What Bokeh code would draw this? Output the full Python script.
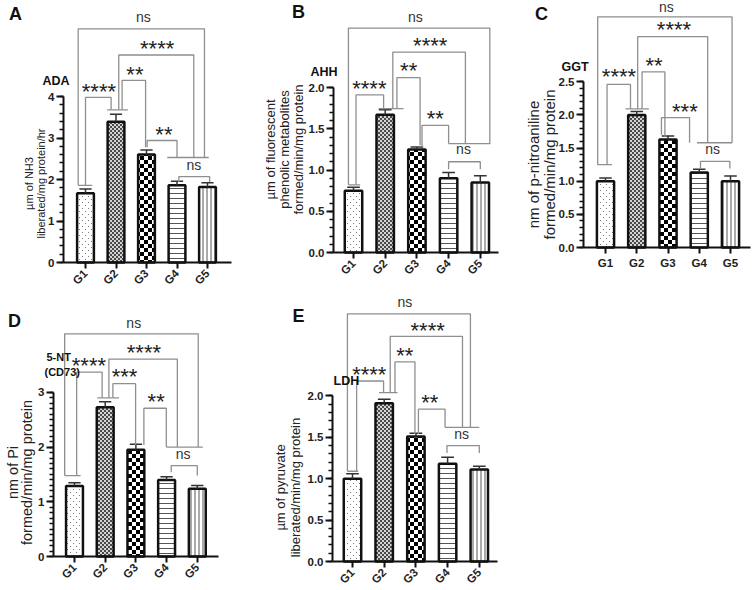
import math
import numpy as np
from bokeh.plotting import figure
from bokeh.models import (Range1d, SingleIntervalTicker, FixedTicker, NumeralTickFormatter,
                          Label, CanvasTexture)
from bokeh.layouts import row, column
from bokeh.embed import file_html
from bokeh.resources import INLINE
from bokeh.core.properties import value

FONT = "Liberation Sans"

groups = ["G1", "G2", "G3", "G4", "G5"]

# ---- data (mean, error) ----
ada_mean = [1.67, 3.39, 2.60, 1.86, 1.82]
ada_err = [0.10, 0.18, 0.11, 0.10, 0.10]
ahh_mean = [0.75, 1.67, 1.25, 0.90, 0.85]
ahh_err = [0.04, 0.06, 0.03, 0.07, 0.08]
ggt_mean = [1.00, 2.00, 1.63, 1.13, 1.00]
ggt_err = [0.05, 0.05, 0.05, 0.05, 0.08]
nt_mean = [1.29, 2.73, 1.95, 1.40, 1.24]
nt_err = [0.06, 0.10, 0.10, 0.06, 0.06]
ldh_mean = [1.00, 1.91, 1.51, 1.18, 1.11]
ldh_err = [0.06, 0.05, 0.04, 0.08, 0.04]

# ---- comparison brackets: (x_left, x_right, y_top, y_left_end, y_right_end, label, label_x, label_y)
ada_brackets = [
    (0.76, 4.90, 5.63, 1.86, 2.53, "ns", 2.90, 5.92),
    (2.09, 4.55, 5.00, 3.68, 2.53, "****", 3.35, 5.27),
    (2.20, 2.97, 4.39, 3.68, 2.78, "**", 2.62, 4.64),
    (1.00, 1.84, 3.98, 1.86, 3.68, "****", 1.44, 4.24),
    (3.02, 4.00, 2.94, 2.78, 2.53, "**", 3.57, 3.20),
    (4.06, 5.07, 2.07, 1.94, 1.94, "ns", 4.55, 2.36),
]
ada_feet = [(0.76, 1.22, 1.86), (1.71, 2.39, 3.68), (3.68, 5.04, 2.53)]

ahh_brackets = [
    (0.84, 5.30, 2.72, 0.82, 1.32, "ns", 2.95, 2.86),
    (2.24, 4.53, 2.43, 1.745, 1.32, "****", 3.42, 2.56),
    (2.37, 3.10, 2.12, 1.745, 1.30, "**", 2.74, 2.26),
    (1.08, 1.95, 1.91, 0.82, 1.745, "****", 1.50, 2.04),
    (3.16, 4.00, 1.54, 1.28, 1.32, "**", 3.58, 1.68),
    (4.00, 5.00, 1.10, 1.01, 1.01, "ns", 4.47, 1.25),
]
ahh_feet = [(0.84, 1.21, 0.82), (1.79, 2.58, 1.745), (4.00, 5.32, 1.32)]

ggt_brackets = [
    (0.75, 5.05, 3.48, 1.25, 1.58, "ns", 2.95, 3.63),
    (2.03, 4.27, 3.18, 2.09, 1.58, "****", 3.19, 3.35),
    (2.17, 2.90, 2.65, 2.09, 1.67, "**", 2.55, 2.81),
    (1.05, 1.80, 2.46, 1.25, 2.09, "****", 1.43, 2.64),
    (2.79, 3.69, 1.96, 1.70, 1.58, "***", 3.54, 2.12),
    (4.04, 4.98, 1.30, 1.19, 1.19, "ns", 4.43, 1.49),
]
ggt_feet = [(0.75, 1.21, 1.25), (1.64, 2.39, 2.09), (3.93, 5.05, 1.58)]

nt_brackets = [
    (0.68, 5.03, 4.07, 1.48, 2.00, "ns", 2.93, 4.27),
    (2.12, 4.35, 3.61, 2.90, 2.00, "****", 3.26, 3.81),
    (2.25, 2.99, 3.16, 2.90, 2.04, "***", 2.63, 3.37),
    (1.07, 1.90, 3.37, 1.48, 2.90, "****", 1.47, 3.57),
    (3.26, 3.99, 2.71, 2.04, 2.00, "**", 3.66, 2.91),
    (4.15, 5.00, 1.66, 1.54, 1.48, "ns", 4.54, 1.87),
]
nt_feet = [(0.68, 1.20, 1.48), (1.74, 2.45, 2.90), (3.99, 5.18, 2.00)]

ldh_brackets = [
    (0.84, 4.72, 2.99, 1.09, 1.62, "ns", 2.65, 3.13),
    (2.19, 4.47, 2.72, 2.04, 1.62, "****", 3.37, 2.85),
    (2.34, 2.97, 2.41, 2.04, 1.54, "**", 2.65, 2.54),
    (1.13, 1.98, 2.18, 1.09, 2.04, "****", 1.53, 2.31),
    (3.08, 3.92, 1.84, 1.54, 1.62, "**", 3.44, 1.97),
    (3.98, 5.00, 1.40, 1.31, 1.31, "ns", 4.44, 1.54),
]
ldh_feet = [(0.84, 1.18, 1.09), (1.84, 2.42, 2.04), (3.92, 5.00, 1.62)]

# ---- bar textures ----
dots_tex = CanvasTexture(code="var c = ctx.canvas; c.width = 6; c.height = 6; "
                              "ctx.fillStyle='#7a7a7a'; ctx.fillRect(1,1,1,1); ctx.fillRect(4,4,1,1);")
fine_tex = CanvasTexture(code="var c = ctx.canvas; c.width = 4; c.height = 4; "
                              "ctx.fillStyle='#4a4a4a'; ctx.fillRect(0,0,2,2); ctx.fillRect(2,2,2,2);")
check_tex = CanvasTexture(code="var c = ctx.canvas; c.width = 8; c.height = 8; "
                               "ctx.fillStyle='#000000'; ctx.fillRect(0,0,4,4); ctx.fillRect(4,4,4,4);")

bar_styles = [
    dict(fill_color="white", hatch_pattern=value("g1"), hatch_extra={"g1": dots_tex}, hatch_scale=6),
    dict(fill_color="#d4d4d4", hatch_pattern=value("g2"), hatch_extra={"g2": fine_tex}, hatch_scale=4),
    dict(fill_color="white", hatch_pattern=value("g3"), hatch_extra={"g3": check_tex}, hatch_scale=8),
    dict(fill_color="white", hatch_pattern="horizontal_line", hatch_scale=5, hatch_weight=1, hatch_color="#555555"),
    dict(fill_color="white", hatch_pattern="vertical_line", hatch_scale=4, hatch_weight=1, hatch_color="#555555"),
]


def make_panel(geo, means, errs, axis_max, step, nminor, fmt, ylabel_lines, ylabel_size,
               titles, title_size, letter, letter_pos, brackets, feet, rotate=True):
    fx0, fy0, fw, fh = geo["fig"]
    left, right, zero = geo["axes"]
    g1, sp, pxu = geo["g1"], geo["sp"], geo["pxu"]

    def tx(px):
        return 1 + (px - g1) / sp

    def ty(py):
        return (zero - py) / pxu

    p = figure(width=fw, height=fh, x_range=Range1d(tx(fx0), tx(fx0 + fw)),
               y_range=Range1d(ty(fy0 + fh), ty(fy0)), output_backend="svg",
               toolbar_location=None, title=None,
               min_border_left=0, min_border_right=0, min_border_top=0, min_border_bottom=0)
    p.outline_line_color = None
    p.grid.visible = False

    xs = np.arange(1, 6)
    means = np.array(means)
    tops = means + np.array(errs)
    for i in range(5):
        p.vbar(x=[xs[i]], top=[means[i]], width=0.55, line_color="#111111",
               line_width=2.5, **bar_styles[i])
    p.segment(x0=xs, y0=means, x1=xs, y1=tops, line_color="#333333", line_width=1.5)
    p.segment(x0=xs - 0.2, y0=tops, x1=xs + 0.2, y1=tops, line_color="#333333", line_width=1.5)

    bx, by = [], []
    for (xl, xr, yt, ybl, ybr, lab, lx, ly) in brackets:
        bx.append([xl, xl, xr, xr])
        by.append([ybl, yt, yt, ybr])
    p.multi_line(bx, by, line_color="#8f8f8f", line_width=1.3)
    p.segment(x0=[f[0] for f in feet], y0=[f[2] for f in feet],
              x1=[f[1] for f in feet], y1=[f[2] for f in feet],
              line_color="#8f8f8f", line_width=1.3)

    st = [b for b in brackets if b[5] != "ns"]
    ns = [b for b in brackets if b[5] == "ns"]
    p.text(x=[b[6] for b in st], y=[b[7] - 4.5 / pxu for b in st], text=[b[5] for b in st],
           text_font=value(FONT), text_font_size="22px", text_align="center",
           text_baseline="middle", text_color="#222222")
    p.text(x=[b[6] for b in ns], y=[b[7] for b in ns], text=[b[5] for b in ns],
           text_font=value(FONT), text_font_size="14px", text_align="center",
           text_baseline="middle", text_color="#333333")

    # axes placed at fixed data locations
    yax = p.yaxis[0]
    xax = p.xaxis[0]
    yax.fixed_location = tx(left)
    xax.fixed_location = 0
    yax.bounds = (0, axis_max)
    xax.bounds = (tx(left), tx(right))
    yax.ticker = SingleIntervalTicker(interval=step, num_minor_ticks=nminor)
    yax.formatter = NumeralTickFormatter(format=fmt)
    xax.ticker = FixedTicker(ticks=[1, 2, 3, 4, 5], minor_ticks=[])
    xax.major_label_overrides = {i + 1: groups[i] for i in range(5)}
    if rotate:
        xax.major_label_orientation = math.pi / 4
    for ax in (xax, yax):
        ax.axis_line_width = 2
        ax.axis_line_color = "#111111"
        ax.major_tick_line_width = 2
        ax.major_tick_line_color = "#111111"
        ax.major_tick_in = 0
        ax.major_label_text_font = FONT
        ax.major_label_text_font_style = "bold"
        ax.major_label_text_font_size = "11.5px"
        ax.major_label_text_color = "#222222"
    yax.major_tick_out = 7
    yax.minor_tick_out = 4
    yax.minor_tick_in = 0
    yax.minor_tick_line_width = 1.5
    yax.minor_tick_line_color = "#111111"
    yax.major_label_standoff = 2
    xax.major_tick_out = 6
    xax.major_label_standoff = 3

    # y axis title lines (rotated)
    for (t, px, py) in ylabel_lines:
        p.add_layout(Label(x=tx(px), y=ty(py), text=t, angle=math.pi / 2, text_font=FONT,
                           text_font_size=ylabel_size, text_align="center",
                           text_baseline="middle", text_color="#222222"))

    lx, ly = letter_pos
    p.add_layout(Label(x=tx(lx), y=ty(ly), text=letter, text_font=FONT,
                       text_font_style="bold", text_font_size="18px", text_align="center",
                       text_baseline="middle", text_color="#111111"))
    for (t, px, py) in titles:
        p.add_layout(Label(x=tx(px), y=ty(py), text=t, text_font=FONT,
                           text_font_style="bold", text_font_size=title_size, text_align="left",
                           text_baseline="middle", text_color="#111111"))
    return p


# page-pixel geometry of each panel: figure box, y-axis x / x-axis end / zero line
geoA = dict(fig=(0, 0, 250, 290), axes=(63, 231, 262), g1=85, sp=30.5, pxu=41.5)
geoB = dict(fig=(250, 0, 250, 290), axes=(333, 498, 252), g1=353, sp=31.7, pxu=82.5)
geoC = dict(fig=(500, 0, 252, 290), axes=(583, 750, 247), g1=605, sp=31.25, pxu=66.3)
geoD = dict(fig=(0, 290, 250, 299), axes=(53, 218, 556), g1=74, sp=30.7, pxu=54.7)
geoE = dict(fig=(250, 290, 250, 299), axes=(332, 497, 561), g1=352, sp=31.7, pxu=82.8)

pA = make_panel(geoA, ada_mean, ada_err, 4, 1, 5, "0",
                [("µm of NH3", 28, 183), ("liberated/mg protein/hr", 40, 183)], "11px",
                [("ADA", 42, 80.5)], "12.5px", "A", (15, 13), ada_brackets, ada_feet)
pB = make_panel(geoB, ahh_mean, ahh_err, 2.0, 0.5, 5, "0.0",
                [("µm of fluorescent", 270, 149), ("phenolic metabolites", 284, 149),
                 ("formed/min/mg protein", 298, 149)], "13px",
                [("AHH", 310, 71)], "12.5px", "B", (298, 11), ahh_brackets, ahh_feet)
pC = make_panel(geoC, ggt_mean, ggt_err, 2.5, 0.5, 5, "0.0",
                [("nm of p-nitroaniline", 533, 164), ("formed/min/mg protein", 549, 164)], "15px",
                [("GGT", 561, 66)], "12.5px", "C", (541, 13), ggt_brackets, ggt_feet, rotate=False)
pD = make_panel(geoD, nt_mean, nt_err, 3, 1, 10, "0",
                [("nm of Pi", 12, 472), ("formed/min/mg protein", 26, 472)], "14.5px",
                [("5-NT", 46, 356.5), ("(CD73)", 44, 371)], "11px", "D", (14, 320),
                nt_brackets, nt_feet)
pE = make_panel(geoE, ldh_mean, ldh_err, 2.0, 0.5, 5, "0.0",
                [("µm of pyruvate", 280, 487), ("liberated/min/mg protein", 295, 487)], "13px",
                [("LDH", 333, 380)], "12.5px", "E", (298, 315), ldh_brackets, ldh_feet)

layout = column(row(pA, pB, pC), row(pD, pE))
open("out.html", "w").write(file_html(layout, INLINE))
